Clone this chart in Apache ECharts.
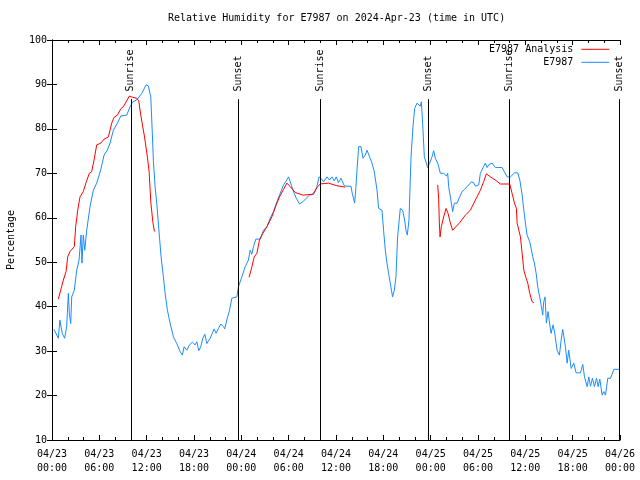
<!DOCTYPE html>
<html>
<head>
<meta charset="utf-8">
<script src="https://cdn.jsdelivr.net/npm/echarts@6/dist/echarts.min.js"></script>
<style>html,body{margin:0;padding:0;background:#fff}#c{width:640px;height:480px}</style>
</head>
<body>
<div id="c"></div>
<script>
// hours since 04/23 00:00 UTC, relative humidity (%)
const observed = [[0.25,34.9],[0.8,32.9],[1.0,37],[1.3,34],[1.6,32.9],[1.86,35.5],[2.07,43],[2.2,38.5],[2.37,36.2],[2.5,42.2],[2.83,43.7],[3.13,48.2],[3.43,50.5],[3.68,56.1],[3.8,49.8],[3.97,56.1],[4.15,52.7],[4.4,57.2],[4.82,62.5],[5.24,66.2],[5.67,67.8],[6.18,70.8],[6.6,74.1],[7.0,75.2],[7.36,76.8],[7.78,79.7],[8.29,81.3],[8.72,82.9],[9.47,83.1],[9.9,85],[10.23,86.1],[10.74,86.5],[11.38,88],[11.93,89.9],[12.2,89.7],[12.52,87.2],[12.69,80.1],[12.86,72.6],[13.07,67],[13.28,63.3],[13.62,55.7],[13.83,51.2],[14.12,46.7],[14.34,43],[14.63,39.2],[14.97,36.3],[15.39,33.2],[15.82,31.7],[16.24,29.9],[16.53,29.1],[16.75,31],[17.09,30.2],[17.42,31.4],[17.8,32],[18.14,31.4],[18.36,32.1],[18.61,30.1],[18.86,31],[19.12,32.9],[19.37,33.8],[19.63,31.7],[19.88,31.4],[20.05,32.9],[20.3,32.5],[20.55,35],[20.8,34],[21.1,35.1],[21.4,36.1],[21.73,35.5],[21.9,35],[22.16,37],[22.5,39.2],[22.8,41.9],[23.0,42.2],[23.43,42.2],[23.64,44.5],[24.07,46.7],[24.49,49],[24.9,50.5],[25.12,52.7],[25.33,51.8],[25.54,53.5],[25.84,55.2],[26.39,55.2],[26.81,57.2],[27.24,58],[27.66,59.9],[28.08,61.4],[28.51,63.6],[28.93,65.5],[29.35,67.4],[29.69,68.3],[29.99,69.2],[30.2,68.1],[30.54,66.2],[30.96,64.4],[31.38,63.1],[31.8,63.6],[32.23,64.4],[32.65,65.1],[33.16,65.3],[33.41,66.2],[33.58,67],[33.84,69.2],[34.1,68.9],[34.42,68.1],[34.85,69.2],[35.18,68.5],[35.48,69.2],[35.78,68.3],[36.03,69.2],[36.32,67.9],[36.63,68.9],[36.88,69.2],[37.05,67.2],[37.39,67.1],[37.9,67.1],[38.06,65.5],[38.36,63.3],[38.53,67],[38.66,70.8],[38.87,76],[39.17,76],[39.42,73.4],[39.71,74.1],[39.93,75.2],[40.22,73.9],[40.56,72.3],[40.85,70.4],[41.2,66.2],[41.4,62.1],[41.83,61.7],[42.03,57.2],[42.25,52.7],[42.46,49.8],[42.67,47.5],[42.88,45.3],[43.17,42.2],[43.39,43.7],[43.6,46.7],[43.81,55.7],[44.15,62.1],[44.44,61.7],[44.7,59.5],[44.87,57.2],[45.04,56.1],[45.25,59.5],[45.51,73.7],[45.76,80.5],[45.97,84.6],[46.27,85.8],[46.48,86.1],[46.69,85.1],[46.82,86.1],[46.98,81.3],[47.2,73.7],[47.45,72.3],[47.62,71.3],[47.87,72.3],[48.17,73.7],[48.38,75.1],[48.59,73.4],[48.89,72.3],[49.14,71.9],[49.23,70],[49.65,70],[49.99,69.4],[50.16,70],[50.28,67],[50.5,64.7],[50.79,61.4],[51.0,63.3],[51.35,63.3],[51.68,64.7],[51.98,65.9],[52.31,66.4],[52.61,67],[52.94,67.6],[53.16,68.1],[53.45,67.9],[53.67,67.1],[54.09,67.4],[54.3,70],[54.64,71.3],[54.93,72.3],[55.15,71.3],[55.4,72],[55.79,72.3],[56.2,71.3],[57.05,71.3],[57.69,69.2],[58.11,69.2],[58.62,70.1],[59.04,70.1],[59.3,68.5],[59.6,65.1],[59.81,61.7],[60.01,58.8],[60.22,56.1],[60.56,54.6],[60.73,53.1],[60.94,51.2],[61.15,49.8],[61.37,47.5],[61.57,44.5],[61.82,42.2],[62.04,40],[62.2,38.1],[62.33,41.1],[62.5,42.2],[62.67,36.3],[62.88,38.9],[63.05,36.6],[63.26,34],[63.52,35.9],[63.73,34],[64.03,30.2],[64.32,29.1],[64.54,32.5],[64.74,34.9],[64.96,34.9],[65.08,31],[65.3,27.3],[65.5,30.2],[65.81,26.1],[66.14,27.3],[66.44,25.1],[66.7,25.1],[66.99,25.1],[67.28,27],[67.5,24.2],[67.84,22],[68.04,24.2],[68.26,22.1],[68.51,23.9],[68.76,22],[69.02,23.9],[69.23,22],[69.44,23.7],[69.74,20.1],[69.95,20.9],[70.16,20.1],[70.45,23.9],[70.8,23.9],[71.22,25.9],[71.98,25.9]];

const analysis = [[0.8,41.7],[1.1,43.7],[1.44,46],[1.78,47.9],[1.99,51.2],[2.28,52.4],[2.83,53.5],[3.0,58],[3.26,61.7],[3.55,64.7],[3.97,65.9],[4.31,67.9],[4.73,70],[5.03,70.4],[5.33,73],[5.67,76.4],[6.18,76.8],[6.6,77.7],[7.15,78.2],[7.57,81.3],[7.87,82.6],[8.29,83.1],[8.72,84.5],[9.05,85],[9.47,86.3],[9.81,87.4],[10.23,87.1],[10.74,86.9],[11.0,86.3],[11.25,83.1],[11.5,80.5],[11.71,78.4],[11.93,78.4],[12.09,73.7],[12.31,70.4],[12.52,63.6],[12.78,59.1],[12.98,56.9],
[18,null],
[24.99,46.6],[25.33,48.9],[25.63,51.2],[25.97,52],[26.3,55],[26.73,56.5],[27.24,58],[27.87,60.2],[28.42,62.9],[28.84,64.7],[29.35,66.4],[29.78,67.8],[30.2,67],[30.83,65.7],[31.8,65.1],[33.07,65.3],[33.66,67],[34.0,67.6],[35.05,67.8],[36.12,67.2],[37.17,66.9],
[43,null],
[48.89,67.4],[49.01,64.4],[49.1,58.8],[49.19,55.7],[49.35,58],[49.65,60.2],[49.95,62.1],[50.2,61],[50.5,58.8],[50.79,57.2],[51.04,57.2],[51.68,58.9],[52.4,60.6],[53.03,61.7],[53.67,64],[54.3,66.2],[54.72,68.1],[55.06,69.9],[55.57,69.2],[56.2,68.5],[56.84,67.6],[58.02,67.6],[58.32,65.5],[58.62,63.3],[58.87,62.1],[58.96,58.8],[59.21,58.4],[59.38,55.7],[59.6,51.9],[59.81,48.2],[60.05,46.7],[60.31,45.3],[60.56,43],[60.86,41.1],[61.07,40.9]];

const eventTimes = [10.0, 23.64, 34.04, 47.74, 58.02, 71.9];
const eventNames = ['Sunrise','Sunset','Sunrise','Sunset','Sunrise','Sunset'];
const xTickLabels = ['04/23\n00:00','04/23\n06:00','04/23\n12:00','04/23\n18:00','04/24\n00:00','04/24\n06:00','04/24\n12:00','04/24\n18:00','04/25\n00:00','04/25\n06:00','04/25\n12:00','04/25\n18:00','04/26\n00:00'];
const lineTopValue = 86.7;
const labelBaseValue = 88.4;

const FONT = 'DejaVu Sans Mono';
const chart = echarts.init(document.getElementById('c'), null, {renderer: 'canvas'});
const axisCommon = {
  axisLine: {show: true, lineStyle: {color: '#000', width: 1}},
  splitLine: {show: false}
};
chart.setOption({
  animation: false,
  backgroundColor: '#fff',
  title: {
    text: 'Relative Humidity for E7987 on 2024-Apr-23 (time in UTC)',
    left: 168, top: 13, padding: 0,
    textStyle: {fontFamily: FONT, fontSize: 10, fontWeight: 'normal', color: '#000'}
  },
  legend: {
    orient: 'vertical', right: 30.7, top: 43.3, padding: 0, align: 'right',
    itemGap: 1, itemWidth: 28, itemHeight: 1, icon: 'rect',
    textStyle: {fontFamily: FONT, fontSize: 10, color: '#000', lineHeight: 12, padding: [0, 3, 0, 0]},
    data: ['E7987 Analysis', 'E7987']
  },
  grid: {left: 52, right: 20, top: 40, bottom: 40, containLabel: false, outerBoundsMode: 'none'},
  xAxis: [
    Object.assign({
      type: 'value', min: 0, max: 72, interval: 6, position: 'bottom',
      axisTick: {show: true, inside: true, length: 5, lineStyle: {color: '#000'}},
      minorTick: {show: true, splitNumber: 3, length: 3, lineStyle: {color: '#000'}},
      axisLabel: {fontFamily: FONT, fontSize: 10, color: '#000', lineHeight: 14, margin: 7,
        formatter: v => xTickLabels[Math.round(v / 6)]}
    }, axisCommon),
    Object.assign({
      type: 'value', min: 0, max: 72, interval: 6, position: 'top',
      axisTick: {show: true, inside: true, length: 5, lineStyle: {color: '#000'}},
      minorTick: {show: true, splitNumber: 3, length: 3, lineStyle: {color: '#000'}},
      axisLabel: {show: false}
    }, axisCommon)
  ],
  yAxis: [
    Object.assign({
      type: 'value', min: 10, max: 100, interval: 10, position: 'left',
      name: 'Percentage', nameLocation: 'middle', nameGap: 41, nameRotate: 90, nameMoveOverlap: false,
      nameTextStyle: {fontFamily: FONT, fontSize: 10, color: '#000', verticalAlign: 'middle'},
      axisTick: {show: true, inside: true, length: 5, lineStyle: {color: '#000'}},
      axisLabel: {fontFamily: FONT, fontSize: 10, color: '#000', margin: 5}
    }, axisCommon),
    Object.assign({
      type: 'value', min: 10, max: 100, interval: 10, position: 'right',
      axisTick: {show: true, inside: true, length: 5, lineStyle: {color: '#000'}},
      axisLabel: {show: false}
    }, axisCommon)
  ],
  series: [
    {
      name: 'E7987 Analysis', type: 'line', data: analysis, showSymbol: false, symbol: 'none',
      connectNulls: false, lineStyle: {color: '#ff0000', width: 1}, itemStyle: {color: '#ff0000'}, z: 3
    },
    {
      name: 'E7987', type: 'line', data: observed, showSymbol: false, symbol: 'none',
      lineStyle: {color: '#1a8cff', width: 1}, itemStyle: {color: '#1a8cff'}, z: 2,
      markLine: {
        silent: true, symbol: 'none', animation: false,
        lineStyle: {color: '#000', width: 1, type: 'solid'},
        label: {show: false},
        data: eventTimes.map(t => [{coord: [t, 10]}, {coord: [t, lineTopValue]}])
      }
    },
    {
      name: 'events', type: 'scatter', symbolSize: 1, itemStyle: {color: 'rgba(0,0,0,0)'}, silent: true,
      data: eventTimes.map((t, i) => ({value: [t, labelBaseValue], name: eventNames[i]})),
      label: {
        show: true, position: 'inside', rotate: 90, align: 'left', verticalAlign: 'middle',
        fontFamily: FONT, fontSize: 10, color: '#000', opacity: 1,
        formatter: p => p.name
      },
      labelLayout: {hideOverlap: false},
      z: 4
    }
  ]
});
</script>
</body>
</html>
